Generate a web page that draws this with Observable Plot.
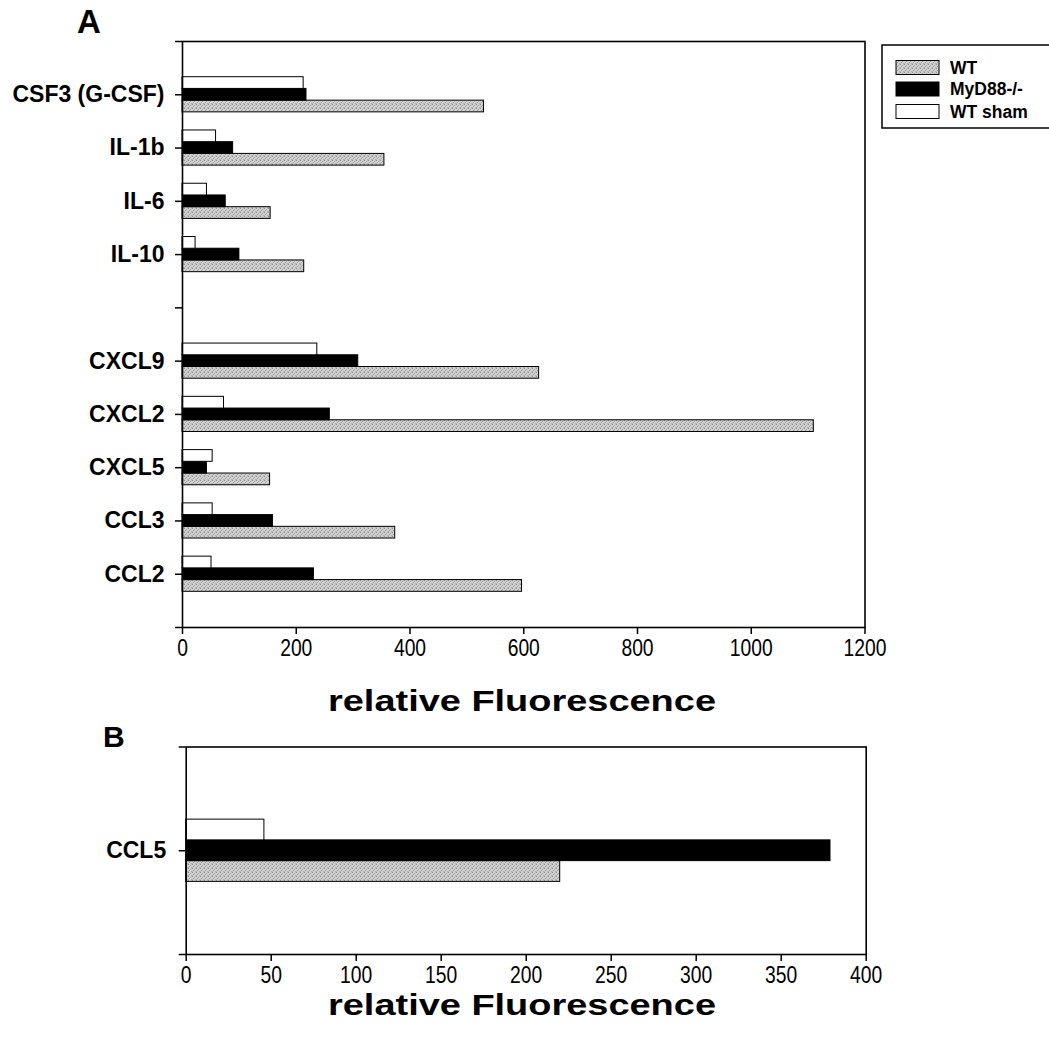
<!DOCTYPE html>
<html>
<head>
<meta charset="utf-8">
<script src="https://cdn.jsdelivr.net/npm/d3@7"></script>
<script src="https://cdn.jsdelivr.net/npm/@observablehq/plot@0.6"></script>
<style>
  html, body { margin: 0; padding: 0; background: #fff; }
  #page { position: relative; width: 1049px; height: 1040px; overflow: hidden; font-family: "Liberation Sans", Arial, sans-serif; }
  #page svg { position: absolute; left: 0; }
</style>
</head>
<body>
<div id="page"></div>
<script>
// ---------- data ----------
const seriesNames = ["WT", "MyD88-/-", "WT sham"];

// Panel A (top to bottom; "" is the empty slot between groups)
const panelALabels = ["CSF3 (G-CSF)", "IL-1b", "IL-6", "IL-10", "", "CXCL9", "CXCL2", "CXCL5", "CCL3", "CCL2"];
const panelAWT     = [530, 355, 155, 214, null, 627, 1110, 154, 374, 597];
const panelAMyD88  = [218, 89, 76, 100, null, 309, 259, 43, 159, 231];
const panelASham   = [213, 59, 43, 23, null, 237, 73, 53, 53, 51];
const xTicksA = [0, 200, 400, 600, 800, 1000, 1200];

// Panel B
const panelBLabels = ["CCL5"];
const panelBWT     = [220];
const panelBMyD88  = [379];
const panelBSham   = [46];
const xTicksB = [0, 50, 100, 150, 200, 250, 300, 350, 400];

const axisTitle = "relative Fluorescence";

// ---------- helpers ----------
const slotOf = {"WT sham": -1, "MyD88-/-": 0, "WT": 1};
function buildRows(labels, wt, myd, sham) {
  const out = [];
  labels.forEach((lab, i) => {
    const pos = i + 1;
    const vals = {"WT": wt[i], "MyD88-/-": myd[i], "WT sham": sham[i]};
    for (const s of seriesNames) {
      if (vals[s] == null) continue;
      out.push({label: lab, pos, series: s, value: vals[s]});
    }
  });
  return out;
}
const rowsA = buildRows(panelALabels, panelAWT, panelAMyD88, panelASham);
const rowsB = buildRows(panelBLabels, panelBWT, panelBMyD88, panelBSham);

const colorScale = {domain: seriesNames, range: ["url(#stipple)", "#000000", "#ffffff"]};
const bold = "'Liberation Sans', Arial, sans-serif";

function panel({rows, labels, xMax, xTicks, barH, width, height, top, mL, mR, mT, mB, yPad}) {
  const n = labels.length + 1;
  const svg = Plot.plot({
    width, height,
    marginLeft: mL, marginRight: mR, marginTop: mT, marginBottom: mB,
    style: {background: "transparent", overflow: "visible", fontFamily: bold, color: "#000"},
    x: {domain: [0, xMax]},
    y: {domain: [0, n], reverse: true},
    color: colorScale,
    marks: [
      Plot.rect(rows, {
        x1: 0, x2: "value",
        y1: d => d.pos + (slotOf[d.series] - 0.5) * barH,
        y2: d => d.pos + (slotOf[d.series] + 0.5) * barH,
        fill: "series", stroke: "#000", strokeWidth: 1
      }),
      Plot.frame({stroke: "#000", strokeWidth: 1.6}),
      Plot.axisX({ticks: xTicks, tickSize: 7, tickPadding: 5, label: null, strokeWidth: 1.5,
        fontSize: 23, fontFamily: bold, tickFormat: d => String(d)}),
      Plot.axisY({ticks: d3.range(0, n + 1), tickSize: 7, tickPadding: yPad, label: null, strokeWidth: 1.5,
        fontSize: 23, fontWeight: "bold", fontFamily: bold,
        tickFormat: i => (i >= 1 && i <= labels.length) ? labels[i - 1] : ""})
    ]
  });
  svg.style.top = top + "px";
  // narrow (condensed) digits for the x tick labels, as in the original
  d3.select(svg).selectAll("g[aria-label='x-axis tick label'] text").each(function () {
    const t = this.getAttribute("transform");
    if (t && t.includes("translate")) this.setAttribute("transform", t + " scale(0.84,1)");
  });
  return svg;
}

const page = document.getElementById("page");

const svgA = panel({rows: rowsA, labels: panelALabels, xMax: 1200, xTicks: xTicksA, barH: 0.22,
  width: 1049, height: 680, top: 0, mL: 182, mR: 184.5, mT: 41, mB: 53, yPad: 11});
const svgB = panel({rows: rowsB, labels: panelBLabels, xMax: 400, xTicks: xTicksB, barH: 0.2,
  width: 1049, height: 300, top: 720, mL: 185.7, mR: 183.3, mT: 26.5, mB: 66, yPad: 13});

// stipple pattern for the WT bars
const defs = d3.select(svgA).insert("defs", ":first-child");
const pat = defs.append("pattern").attr("id", "stipple").attr("patternUnits", "userSpaceOnUse")
  .attr("width", 4).attr("height", 4);
pat.append("rect").attr("width", 4).attr("height", 4).attr("fill", "#d4d4d4");
[[0,0,"#8c8c8c"],[2,1,"#a0a0a0"],[1,2,"#969696"],[3,3,"#acacac"],[3,0,"#bcbcbc"],[0,3,"#b4b4b4"]]
  .forEach(([x, y, c]) => pat.append("rect").attr("x", x).attr("y", y).attr("width", 1).attr("height", 1).attr("fill", c));

page.appendChild(svgA);
page.appendChild(svgB);

// ---------- overlay: panel letters, axis titles, legend ----------
const ov = d3.select(page).append("svg")
  .attr("width", 1049).attr("height", 1040)
  .style("top", "0px").style("pointer-events", "none")
  .style("font-family", bold);

ov.append("text").attr("x", 77).attr("y", 33).attr("font-size", 33).attr("font-weight", "bold").text("A");
ov.append("text").attr("x", 103).attr("y", 747).attr("font-size", 30).attr("font-weight", "bold").text("B");

for (const yb of [711, 1015]) {
  ov.append("text").attr("x", 328).attr("y", yb).attr("font-size", 29).attr("font-weight", "bold")
    .attr("textLength", 388).attr("lengthAdjust", "spacingAndGlyphs").text(axisTitle);
}

// legend
const lg = ov.append("g");
lg.append("rect").attr("x", 882).attr("y", 45).attr("width", 200).attr("height", 83)
  .attr("fill", "#fff").attr("stroke", "#000").attr("stroke-width", 1.5);
const legendRows = [67.5, 89, 111.5];
seriesNames.forEach((s, i) => {
  const cy = legendRows[i];
  lg.append("rect").attr("x", 896).attr("y", cy - 7).attr("width", 43).attr("height", 14)
    .attr("fill", colorScale.range[i]).attr("stroke", "#000").attr("stroke-width", 1);
  lg.append("text").attr("x", 950).attr("y", cy + 6).attr("font-size", 17.5).attr("font-weight", "bold").text(s);
});
</script>
</body>
</html>
